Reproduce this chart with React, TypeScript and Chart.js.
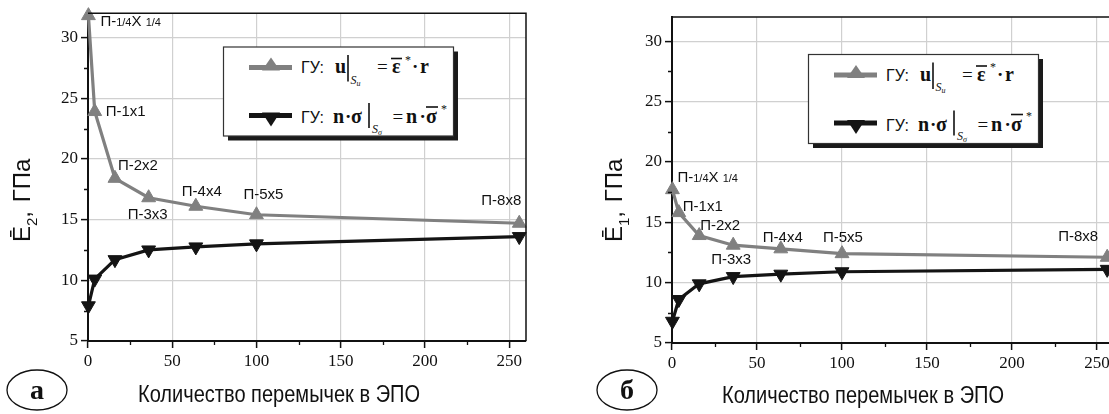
import React, { useEffect, useRef } from 'react';
import { Chart, registerables } from 'chart.js';

Chart.register(...registerables);

// ---------------- data ----------------
const bridgeCounts = [0.25, 4, 16, 36, 64, 100, 256];
const cellLabels = ['П-1/4X 1/4', 'П-1x1', 'П-2x2', 'П-3x3', 'П-4x4', 'П-5x5', 'П-8x8'];
const e2Displacement = [31.8, 23.9, 18.4, 16.8, 16.1, 15.4, 14.7];
const e2Traction = [7.9, 10.1, 11.7, 12.5, 12.75, 13.0, 13.6];
const e1Displacement = [17.7, 15.8, 13.9, 13.1, 12.8, 12.4, 12.1];
const e1Traction = [6.8, 8.6, 9.9, 10.5, 10.7, 10.9, 11.1];
const xTickValues = [0, 50, 100, 150, 200, 250];
const xMinorTickValues = [25, 75, 125, 175, 225];
const yTickValues = [5, 10, 15, 20, 25, 30];
const yMinorTickValues = [7.5, 12.5, 17.5, 22.5, 27.5];
const X_MIN = 0;
const X_MAX = 260;
const Y_MIN = 5;
const Y_MAX = 32;
const xAxisTitle = 'Количество перемычек в ЭПО';

// ---------------- styles ----------------
const SERIF = '"Liberation Serif", "DejaVu Serif", "Times New Roman", serif';
const SANS = '"Liberation Sans", Arial, sans-serif';
const GRAY = '#808080';
const DARK = '#141414';

Chart.defaults.font.family = SERIF;

type PanelCfg = {
  key: string;
  canvasLeft: number;
  canvasWidth: number;
  padTop: number;
  padRight: number;
  yWidth: number;
  xHeight: number;
  upper: number[];
  lower: number[];
  offsets: number[][];
};

const panels: PanelCfg[] = [
  {
    key: 'a', canvasLeft: 0, canvasWidth: 540, padTop: 9, padRight: 14, yWidth: 88, xHeight: 73,
    upper: e2Displacement, lower: e2Traction,
    offsets: [[12, 6], [11, 0], [3, -12], [-21, 17], [-14, -14], [-13, -20], [-38, -22]],
  },
  {
    key: 'b', canvasLeft: 580, canvasWidth: 545, padTop: 17, padRight: 11, yWidth: 92, xHeight: 71,
    upper: e1Displacement, lower: e1Traction,
    offsets: [[5, -12], [4, -6], [1, -10], [-22, 15], [-18, -11], [-19, -16], [-49, -20]],
  },
];

function drawCellLabel(ctx: CanvasRenderingContext2D, text: string, x: number, y: number) {
  const parts = text.split(/(1\/4)/).filter((p) => p.length > 0);
  let cx = x;
  ctx.textBaseline = 'middle';
  ctx.textAlign = 'left';
  ctx.fillStyle = '#111';
  for (const p of parts) {
    const small = p === '1/4';
    ctx.font = small ? `11px ${SANS}` : `15px ${SANS}`;
    ctx.fillText(p, cx, y + (small ? 1 : 0));
    cx += ctx.measureText(p).width;
  }
}

const annotatePlugin = {
  id: 'annot',
  afterDatasetsDraw(chart: any, _args: any, opts: any) {
    const { ctx, chartArea, scales } = chart;
    ctx.save();
    // top & right frame
    ctx.strokeStyle = '#111';
    ctx.lineWidth = 1.5;
    ctx.beginPath();
    ctx.moveTo(chartArea.left, chartArea.top);
    ctx.lineTo(chartArea.right, chartArea.top);
    ctx.lineTo(chartArea.right, chartArea.bottom);
    ctx.stroke();
    // minor ticks
    ctx.lineWidth = 1.3;
    ctx.beginPath();
    for (const v of yMinorTickValues) {
      const py = Math.round(scales.y.getPixelForValue(v)) + 0.5;
      ctx.moveTo(chartArea.left, py);
      ctx.lineTo(chartArea.left - 4, py);
    }
    for (const v of xMinorTickValues) {
      const px = Math.round(scales.x.getPixelForValue(v)) + 0.5;
      ctx.moveTo(px, chartArea.bottom);
      ctx.lineTo(px, chartArea.bottom + 4);
    }
    ctx.stroke();
    // point labels
    const meta = chart.getDatasetMeta(0);
    cellLabels.forEach((t, i) => {
      const el = meta.data[i];
      const [dx, dy] = opts.offsets[i];
      drawCellLabel(ctx, t, el.x + dx, el.y + dy);
    });
    ctx.restore();
  },
};

function Panel({ cfg }: { cfg: PanelCfg }) {
  const ref = useRef<HTMLCanvasElement>(null);
  useEffect(() => {
    const tickFont = { family: SERIF, size: 17, weight: 'normal' };
    const chart = new Chart(ref.current as HTMLCanvasElement, {
      type: 'line',
      data: {
        datasets: [
          {
            label: 'u',
            data: bridgeCounts.map((x, i) => ({ x, y: cfg.upper[i] })),
            borderColor: GRAY,
            backgroundColor: GRAY,
            borderWidth: 3.2,
            pointStyle: 'triangle',
            pointRadius: 8,
            pointBorderWidth: 1,
            tension: 0,
            clip: false as any,
          },
          {
            label: 'n',
            data: bridgeCounts.map((x, i) => ({ x, y: cfg.lower[i] })),
            borderColor: DARK,
            backgroundColor: DARK,
            borderWidth: 3.2,
            pointStyle: 'triangle',
            rotation: 180,
            pointRadius: 8,
            pointBorderWidth: 1,
            tension: 0,
            clip: false as any,
          },
        ],
      },
      options: {
        animation: false,
        responsive: false,
        devicePixelRatio: 1,
        layout: { padding: { left: 0, top: cfg.padTop, right: cfg.padRight, bottom: 0 } },
        plugins: {
          legend: { display: false },
          tooltip: { enabled: false },
          annot: { offsets: cfg.offsets },
        } as any,
        scales: {
          x: {
            type: 'linear',
            min: X_MIN,
            max: X_MAX,
            afterBuildTicks: (s: any) => { s.ticks = xTickValues.map((v) => ({ value: v })); },
            afterFit: (s: any) => { s.height = cfg.xHeight; },
            grid: { color: '#d0d0d0', lineWidth: 1.2, tickLength: 7, tickColor: '#111', tickWidth: 1.5 },
            border: { display: true, color: '#111', width: 2 },
            ticks: { font: tickFont, color: '#111', padding: 3, maxRotation: 0, autoSkip: false },
          },
          y: {
            type: 'linear',
            min: Y_MIN,
            max: Y_MAX,
            afterBuildTicks: (s: any) => { s.ticks = yTickValues.map((v) => ({ value: v })); },
            afterFit: (s: any) => { s.width = cfg.yWidth; },
            grid: { color: '#d0d0d0', lineWidth: 1.2, tickLength: 7, tickColor: '#111', tickWidth: 1.5 },
            border: { display: true, color: '#111', width: 2 },
            ticks: { font: tickFont, color: '#111', padding: 3, autoSkip: false },
          },
        },
      } as any,
      plugins: [annotatePlugin as any],
    });
    return () => chart.destroy();
  }, []);
  return (
    <canvas
      ref={ref}
      width={cfg.canvasWidth}
      height={414}
      style={{ position: 'absolute', left: cfg.canvasLeft, top: 0, width: cfg.canvasWidth, height: 414 }}
    />
  );
}

function LegendBox({ x, y }: { x: number; y: number }) {
  const b = { fontFamily: SERIF, fontWeight: 'bold' as const, fontSize: 20, fill: '#111' };
  const sub = { fontFamily: SERIF, fontStyle: 'italic' as const, fontSize: 12, fill: '#111' };
  return (
    <g transform={`translate(${x},${y})`}>
      <rect x={5} y={5} width={230} height={89} fill="#1a1a1a" />
      <rect x={0.5} y={0.5} width={230} height={89} fill="#fff" stroke="#333" strokeWidth={1.2} />
      {/* row 1 */}
      <line x1={26} x2={69} y1={21} y2={21} stroke={GRAY} strokeWidth={5} />
      <polygon points="48,11 57,24 39,24" fill={GRAY} />
      <text x={78} y={26.6} fontFamily={SANS} fontSize={16} fill="#111">ГУ:</text>
      <text x={112} y={26.6} {...b}>u</text>
      <line x1={125} x2={125} y1={8.5} y2={35} stroke="#111" strokeWidth={1.6} />
      <text x={127.5} y={37} {...sub}>S<tspan fontSize={8} dy={2}>u</tspan></text>
      <text x={154} y={26.6} fontFamily={SERIF} fontSize={19} fill="#111">=</text>
      <text x={169} y={26.6} {...b}>ε</text>
      <line x1={168} x2={179} y1={12} y2={12} stroke="#111" strokeWidth={1.6} />
      <text x={182} y={17} fontFamily={SERIF} fontSize={12} fill="#111">*</text>
      <text x={189} y={26.6} {...b} fontSize={19}>·</text>
      <text x={197} y={26.6} {...b}>r</text>
      {/* row 2 */}
      <line x1={26} x2={69} y1={69} y2={69} stroke={DARK} strokeWidth={5} />
      <polygon points="39,66 57,66 48,80" fill={DARK} />
      <text x={78} y={76.6} fontFamily={SANS} fontSize={16} fill="#111">ГУ:</text>
      <text x={110} y={76.6} {...b}>n</text>
      <text x={122} y={76.6} {...b} fontSize={19}>·</text>
      <text x={128} y={76.6} {...b}>σ</text>
      <line x1={146} x2={146} y1={56.6} y2={81.6} stroke="#111" strokeWidth={1.6} />
      <text x={149} y={86} {...sub}>S<tspan fontSize={8} dy={2}>σ</tspan></text>
      <text x={169.5} y={76.6} fontFamily={SERIF} fontSize={19} fill="#111">=</text>
      <text x={183} y={76.6} {...b}>n</text>
      <text x={196.5} y={76.6} {...b} fontSize={19}>·</text>
      <text x={203} y={76.6} {...b}>σ</text>
      <line x1={203} x2={215} y1={60.5} y2={60.5} stroke="#111" strokeWidth={1.6} />
      <text x={218} y={66} fontFamily={SERIF} fontSize={12} fill="#111">*</text>
    </g>
  );
}

function Overlay() {
  return (
    <svg
      width={1109}
      height={414}
      style={{ position: 'absolute', left: 0, top: 0, pointerEvents: 'none' }}
    >
      <LegendBox x={223} y={46.5} />
      <LegendBox x={808} y={54} />
      {/* y titles */}
      <text transform="translate(30,242) rotate(-90)" fontFamily={SANS} fontSize={24} fill="#111">
        Ē<tspan fontSize={15} dy={7}>2</tspan><tspan dy={-7}>, </tspan><tspan dx={2}>ГПа</tspan>
      </text>
      <text transform="translate(622,242) rotate(-90)" fontFamily={SANS} fontSize={24} fill="#111">
        Ē<tspan fontSize={15} dy={7}>1</tspan><tspan dy={-7}>, </tspan><tspan dx={2}>ГПа</tspan>
      </text>
      {/* x titles */}
      <text x={279} y={402} textAnchor="middle" fontFamily={SANS} fontSize={24} fill="#111" textLength={282} lengthAdjust="spacingAndGlyphs">{xAxisTitle}</text>
      <text x={863} y={403} textAnchor="middle" fontFamily={SANS} fontSize={24} fill="#111" textLength={282} lengthAdjust="spacingAndGlyphs">{xAxisTitle}</text>
      {/* panel marks */}
      <ellipse cx={37} cy={390} rx={30} ry={20} fill="none" stroke="#111" strokeWidth={1.3} />
      <text x={37} y={399} textAnchor="middle" fontFamily={SERIF} fontWeight="bold" fontSize={28} fill="#111">а</text>
      <ellipse cx={627} cy={390} rx={30} ry={20} fill="none" stroke="#111" strokeWidth={1.3} />
      <text x={627} y={399} textAnchor="middle" fontFamily={SERIF} fontWeight="bold" fontSize={28} fill="#111">б</text>
    </svg>
  );
}

export default function App() {
  return (
    <div style={{ position: 'fixed', left: 0, top: 0, width: 1109, height: 414, overflow: 'hidden', background: '#fff' }}>
      {panels.map((p) => (
        <Panel key={p.key} cfg={p} />
      ))}
      <Overlay />
    </div>
  );
}
